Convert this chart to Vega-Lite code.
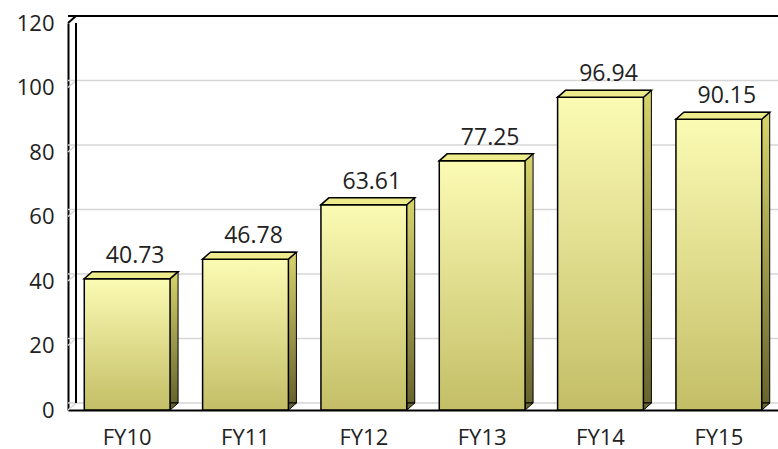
{
  "$schema": "https://vega.github.io/schema/vega-lite/v6.json",
  "autosize": {"type": "none"},
  "width": 710,
  "height": 387,
  "padding": {"left": 68, "top": 23, "right": 0, "bottom": 39},
  "background": "white",
  "view": {"stroke": null},
  "config": {
    "font": "Open Sans",
    "axis": {"labelFont": "Open Sans", "labelFontSize": 22, "labelColor": "#222222", "ticks": false, "grid": false, "domainColor": "#000000", "domainWidth": 2, "title": null}
  },
  "datasets": {
    "bars": [
      {"fy": "FY10", "value": 40.73},
      {"fy": "FY11", "value": 46.78},
      {"fy": "FY12", "value": 63.61},
      {"fy": "FY13", "value": 77.25},
      {"fy": "FY14", "value": 96.94},
      {"fy": "FY15", "value": 90.15}
    ],
    "grid": [{"v": 0}, {"v": 20}, {"v": 40}, {"v": 60}, {"v": 80}, {"v": 100}, {"v": 120}]
  },
  "layer": [
    {
      "data": {"name": "grid"},
      "mark": {"type": "rule", "xOffset": 8, "yOffset": -7},
      "encoding": {
        "y": {"field": "v", "type": "quantitative", "scale": {"domain": [0, 120], "nice": false}, "axis": {"values": [0, 20, 40, 60, 80, 100, 120], "labelPadding": 14, "domain": true}},
        "color": {"condition": {"test": "datum.v == 120", "value": "#000000"}, "value": "#d6d6d6"},
        "strokeWidth": {"condition": {"test": "datum.v == 120", "value": 2}, "value": 1.5}
      }
    },
    {
      "data": {"name": "grid"},
      "mark": {"type": "point", "shape": "M0,0L8,-7", "size": 4, "filled": false, "opacity": 1},
      "encoding": {
        "x": {"value": 0},
        "y": {"field": "v", "type": "quantitative"},
        "stroke": {"condition": {"test": "datum.v == 120", "value": "#000000"}, "value": "#d6d6d6"},
        "strokeWidth": {"condition": {"test": "datum.v == 120", "value": 2}, "value": 1.5}
      }
    },
    {
      "data": {"name": "grid"},
      "mark": {"type": "rule", "yOffset": -7, "color": "#000000", "strokeWidth": 2},
      "encoding": {
        "x": {"value": 8},
        "y": {"datum": 0, "type": "quantitative"},
        "y2": {"datum": 120}
      }
    },
    {
      "data": {"name": "bars"},
      "mark": {"type": "bar", "xOffset": 8, "yOffset": -7, "y2Offset": -7, "stroke": "#000000", "strokeWidth": 1,
        "fill": {"gradient": "linear", "x1": 0, "y1": 0, "x2": 0, "y2": 1, "stops": [{"offset": 0, "color": "#d8d46c"}, {"offset": 1, "color": "#68642e"}]}},
      "encoding": {
        "x": {"field": "fy", "type": "nominal", "sort": null, "scale": {"paddingInner": 0.275, "paddingOuter": 0.1375}, "axis": {"labelAngle": 0, "labelPadding": 17}},
        "y": {"field": "value", "type": "quantitative"}
      }
    },
    {
      "data": {"name": "bars"},
      "mark": {"type": "point", "shape": "M43,-7L51,-7L43,0Z", "size": 4, "filled": true, "fill": "#68642e", "stroke": "#000000", "strokeWidth": 1, "opacity": 1},
      "encoding": {
        "x": {"field": "fy", "type": "nominal", "sort": null},
        "y": {"datum": 0, "type": "quantitative"}
      }
    },
    {
      "data": {"name": "bars"},
      "mark": {"type": "bar", "stroke": "#000000", "strokeWidth": 1.5,
        "fill": {"gradient": "linear", "x1": 0, "y1": 0, "x2": 0, "y2": 1, "stops": [{"offset": 0, "color": "#fcfbb4"}, {"offset": 1, "color": "#c3be66"}]}},
      "encoding": {
        "x": {"field": "fy", "type": "nominal", "sort": null},
        "y": {"field": "value", "type": "quantitative"}
      }
    },
    {
      "data": {"name": "bars"},
      "mark": {"type": "point", "shape": "M-43,0L43,0L51,-7L-35,-7Z", "size": 4, "filled": true, "fill": "#eeeb8c", "stroke": "#000000", "strokeWidth": 1.5, "opacity": 1},
      "encoding": {
        "x": {"field": "fy", "type": "nominal", "sort": null},
        "y": {"field": "value", "type": "quantitative"}
      }
    },
    {
      "data": {"name": "bars"},
      "mark": {"type": "text", "xOffset": 8, "yOffset": -16, "baseline": "alphabetic", "fontSize": 23, "color": "#222222", "font": "Open Sans"},
      "encoding": {
        "x": {"field": "fy", "type": "nominal", "sort": null},
        "y": {"field": "value", "type": "quantitative"},
        "text": {"field": "value", "type": "quantitative", "format": ".2f"}
      }
    }
  ]
}
